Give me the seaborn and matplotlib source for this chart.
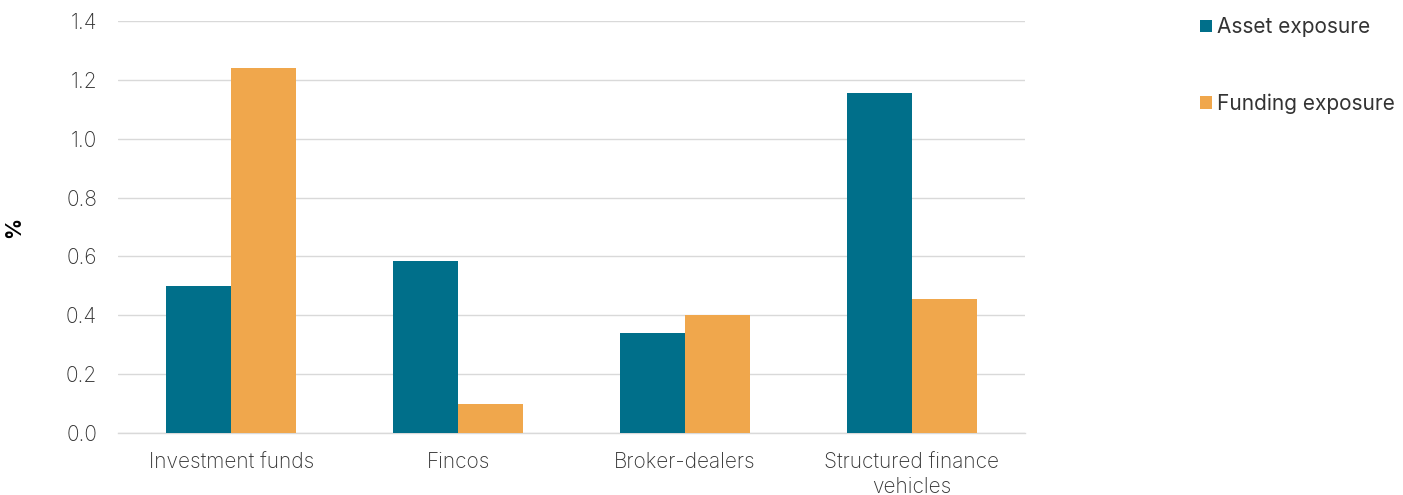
import matplotlib
matplotlib.use("Agg")
import matplotlib.pyplot as plt
from matplotlib.patches import Patch
import numpy as np
import pandas as pd
import seaborn as sns

# Exposure by sector (%)
sectors = ["Investment funds", "Fincos", "Broker-dealers", "Structured finance\nvehicles"]
asset_exposure = [0.50, 0.585, 0.34, 1.155]
funding_exposure = [1.24, 0.10, 0.40, 0.455]
series_names = ["Asset exposure", "Funding exposure"]
yticks = [0.0, 0.2, 0.4, 0.6, 0.8, 1.0, 1.2, 1.4]

colors = ["#006F8A", "#F0A74C"]
text_color = "#333333"
grid_color = "#D9D9D9"
fs = 15

df = pd.DataFrame({
    "sector": sectors * 2,
    "series": [series_names[0]] * len(sectors) + [series_names[1]] * len(sectors),
    "value": asset_exposure + funding_exposure,
})

sns.set_theme(style="white")
plt.rcParams["font.family"] = ["Inter", "DejaVu Sans"]

fig = plt.figure(figsize=(14.03, 4.95), dpi=100)
ax = fig.add_axes([118 / 1403, 1 - 433 / 495, (1025 - 118) / 1403, (433 - 21) / 495])

sns.barplot(data=df, x="sector", y="value", hue="series", palette=colors,
            width=0.573, saturation=1, ax=ax, legend=False, linewidth=0, zorder=3)

ax.set_ylim(0, 1.4)
ax.set_xlim(-0.5, len(sectors) - 0.5)
ax.set_yticks(yticks)
ax.set_yticklabels([f"{t:.1f}" for t in yticks], fontsize=fs, color=text_color, fontweight="light")
ax.yaxis.grid(True, color=grid_color, linewidth=1, zorder=0)
ax.set_axisbelow(True)

ax.set_xticks(range(len(sectors)))
ax.set_xticklabels(sectors, fontsize=fs, color=text_color, fontweight="light",
                   linespacing=1.3)
ax.tick_params(axis="x", which="major", length=0, pad=14)
ax.set_xticks(np.arange(-0.5, len(sectors), 1.0), minor=True)
ax.tick_params(axis="x", which="minor", length=7, color=grid_color, width=1, direction="out")
ax.tick_params(axis="y", length=0, pad=15)

for side in ["left", "right", "top"]:
    ax.spines[side].set_visible(False)
ax.spines["bottom"].set_color(grid_color)
ax.spines["bottom"].set_linewidth(1)

ax.set_xlabel("")
ax.set_ylabel("%", fontsize=15, fontweight="bold", color="black")
ax.yaxis.set_label_coords(-0.1036, 0.5)

handles = [Patch(facecolor=c, edgecolor="none") for c in colors]
fig.legend(handles, series_names, loc="upper left", bbox_to_anchor=(1192 / 1403, 1 - 9 / 495),
           frameon=False, fontsize=fs, labelspacing=2.7, handlelength=0.55, handleheight=0.55,
           handletextpad=0.25, labelcolor=text_color, borderaxespad=0)

fig.savefig("out.png", dpi=100)
